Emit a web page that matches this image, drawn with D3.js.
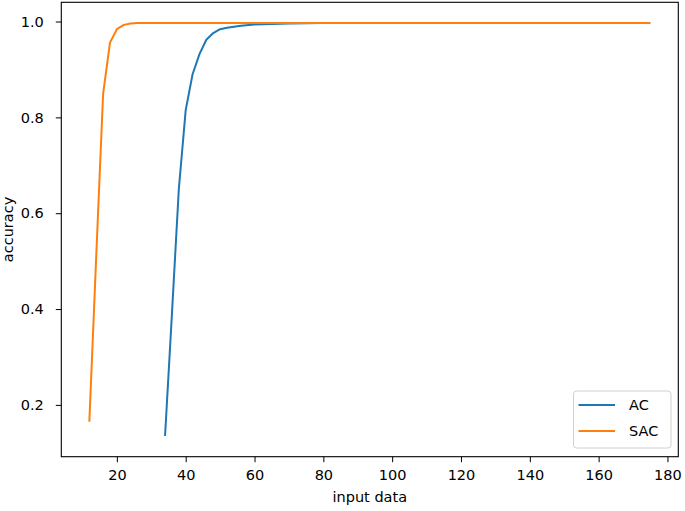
<!DOCTYPE html>
<html>
<head>
<meta charset="utf-8">
<script src="https://cdn.jsdelivr.net/npm/d3@7"></script>
<style>
  body { margin: 0; background: #fff; }
  text { font-family: "DejaVu Sans", sans-serif; fill: #000; }
</style>
</head>
<body>
<div id="chart"></div>
<script>
// Values
const acX = [34, 36, 38, 40, 42, 44, 46, 48, 50, 52, 56, 60, 65, 70, 80, 100, 120, 140, 160, 175];
const acY = [0.135, 0.39, 0.65, 0.815, 0.89, 0.932, 0.962, 0.976, 0.984, 0.987, 0.991, 0.994, 0.995, 0.996, 0.997, 0.997, 0.997, 0.997, 0.997, 0.997];
const sacX = [12, 14, 16, 18, 20, 22, 24, 26, 30, 40, 60, 80, 100, 120, 140, 160, 175];
const sacY = [0.165, 0.51, 0.849, 0.956, 0.984, 0.993, 0.996, 0.997, 0.997, 0.997, 0.997, 0.997, 0.997, 0.997, 0.997, 0.997, 0.997];
const seriesNames = ['AC', 'SAC'];
const seriesColors = ['#1f77b4', '#ff7f0e'];
const xTicks = [20, 40, 60, 80, 100, 120, 140, 160, 180];
const yTicks = [0.2, 0.4, 0.6, 0.8, 1.0];

const width = 685, height = 511;
const margin = { top: 2.3, right: 6.7, bottom: 54.3, left: 61.3 };

const series = [
    { name: seriesNames[0], color: seriesColors[0], points: d3.zip(acX, acY) },
    { name: seriesNames[1], color: seriesColors[1], points: d3.zip(sacX, sacY) }
];

// matplotlib-like 5% padding around the data range
const pad = ([lo, hi]) => [lo - (hi - lo) * 0.05, hi + (hi - lo) * 0.05];
const xExt = pad(d3.extent([...acX, ...sacX]));
const yExt = pad(d3.extent([...acY, ...sacY]));

const x = d3.scaleLinear().domain(xExt).range([margin.left, width - margin.right]);
const y = d3.scaleLinear().domain(yExt).range([height - margin.bottom, margin.top]);

const svg = d3.select('#chart').append('svg')
    .attr('width', width)
    .attr('height', height);

svg.append('rect').attr('width', width).attr('height', height).attr('fill', '#fff');

// Lines
const line = d3.line().x(d => x(d[0])).y(d => y(d[1]));
svg.selectAll('path.series')
    .data(series)
    .join('path')
    .attr('class', 'series')
    .attr('d', s => line(s.points))
    .attr('fill', 'none')
    .attr('stroke', s => s.color)
    .attr('stroke-width', 2)
    .attr('stroke-linejoin', 'round')
    .attr('stroke-linecap', 'butt');

// Axes
const xAxis = svg.append('g')
    .attr('transform', `translate(0,${height - margin.bottom})`)
    .call(d3.axisBottom(x).tickValues(xTicks).tickSize(5.5).tickPadding(8).tickFormat(d3.format('d')));
const yAxis = svg.append('g')
    .attr('transform', `translate(${margin.left},0)`)
    .call(d3.axisLeft(y).tickValues(yTicks).tickSize(5.5).tickPadding(12).tickFormat(d3.format('.1f')));

[xAxis, yAxis].forEach(a => {
    a.select('.domain').remove();
    a.selectAll('.tick line').attr('stroke', '#000').attr('stroke-width', 1);
    a.selectAll('.tick text').attr('font-size', 14.5).attr('fill', '#000');
});

// Frame
svg.append('rect')
    .attr('x', margin.left)
    .attr('y', margin.top)
    .attr('width', width - margin.left - margin.right)
    .attr('height', height - margin.top - margin.bottom)
    .attr('fill', 'none')
    .attr('stroke', '#000')
    .attr('stroke-width', 1.1);

// Axis labels
svg.append('text')
    .attr('x', (margin.left + width - margin.right) / 2)
    .attr('y', 502)
    .attr('text-anchor', 'middle')
    .attr('font-size', 14.5)
    .text('input data');
svg.append('text')
    .attr('transform', `translate(13,${(margin.top + height - margin.bottom) / 2}) rotate(-90)`)
    .attr('text-anchor', 'middle')
    .attr('font-size', 14.5)
    .text('accuracy');

// Legend
const legend = svg.append('g').attr('transform', 'translate(573.5,391)');
legend.append('rect')
    .attr('width', 97.5)
    .attr('height', 57)
    .attr('rx', 3)
    .attr('fill', '#fff')
    .attr('fill-opacity', 0.8)
    .attr('stroke', '#d0d0d0')
    .attr('stroke-width', 1);
series.forEach((s, i) => {
    const ly = 14 + i * 26;
    legend.append('line')
        .attr('x1', 5).attr('x2', 41.5)
        .attr('y1', ly).attr('y2', ly)
        .attr('stroke', s.color)
        .attr('stroke-width', 2);
    legend.append('text')
        .attr('x', 55.5)
        .attr('y', ly + 5)
        .attr('font-size', 14.5)
        .text(s.name);
});
</script>
</body>
</html>
